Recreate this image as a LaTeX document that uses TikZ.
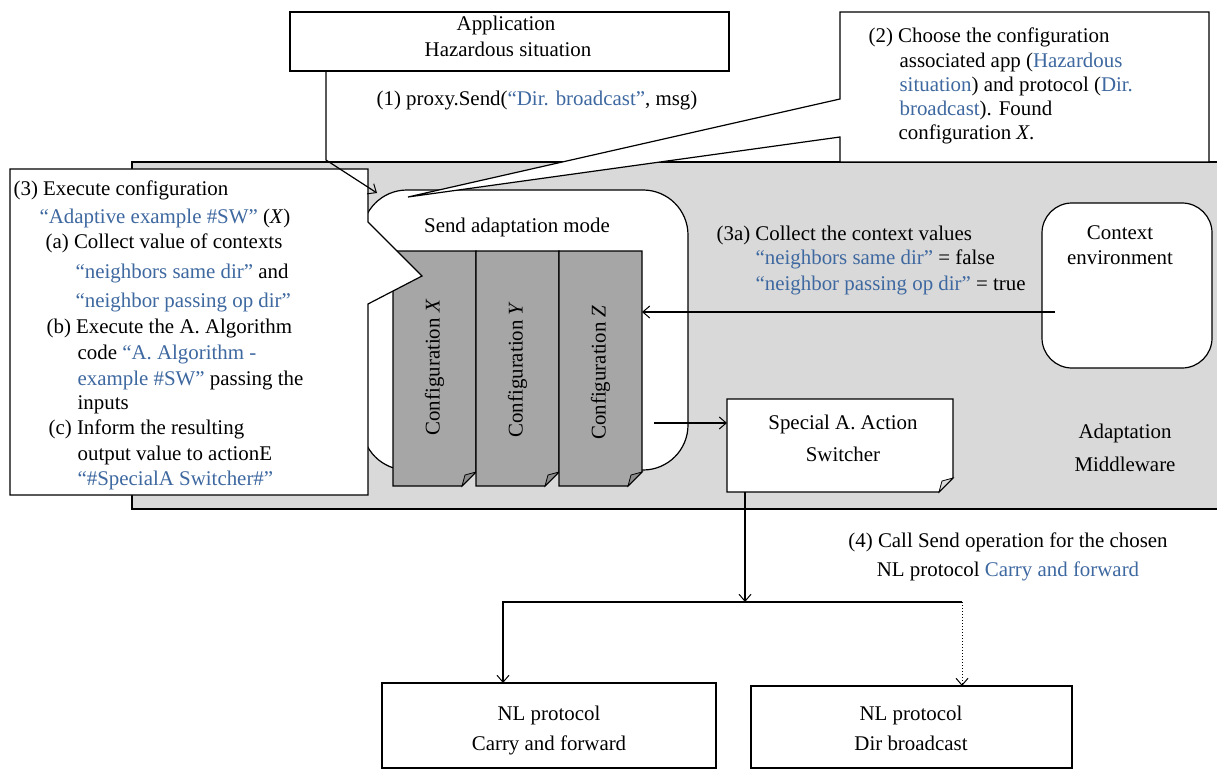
\documentclass[tikz,border=0pt]{standalone}
\usepackage{fontspec}
\setmainfont{Liberation Serif}
\usetikzlibrary{arrows.meta,calc}
\definecolor{lnk}{RGB}{62,104,160}
\definecolor{mwgrey}{RGB}{217,217,217}
\definecolor{cfggrey}{RGB}{166,166,166}
\definecolor{flapdark}{RGB}{140,140,140}
\definecolor{flaplight}{RGB}{220,220,220}
\newcommand{\lk}[1]{\textcolor{lnk}{#1}}
% document shape with a folded bottom-right corner, drawn on a node's frame
\newcommand{\foldeddoc}[3]{%
  \filldraw[fill=#2] (#1.north west) -- (#1.north east) -- ($(#1.south east)+(0,-14)$)
    -- ($(#1.south east)+(-14,0)$) -- (#1.south west) -- cycle;
  \filldraw[fill=#3, line width=0.8pt] ($(#1.south east)+(-14,0)$) -- ($(#1.south east)+(-11,-11)$)
    -- ($(#1.south east)+(0,-14)$) -- cycle;}
\begin{document}
\begin{tikzpicture}[x=1pt, y=-1pt, line width=1.2pt,
  font=\fontsize{20.9}{24}\selectfont,
  arr/.style={-{Straight Barb[length=7pt,width=12pt,line width=1pt]}},
  txt/.style={inner sep=0pt, anchor=base west},
  ctxt/.style={inner sep=0pt, anchor=base},
  frame/.style={inner sep=0pt, outer sep=0pt, anchor=north west},
  plainbox/.style={frame, draw, fill=white},
  docbox/.style={frame}]

\useasboundingbox (0,0) rectangle (1217,770);

% adaptation middleware area
\node[frame, draw, fill=mwgrey, line width=1.4pt, minimum width=1110, minimum height=347] (mw) at (132,162) {};

% application box
\node[plainbox, minimum width=439, minimum height=59] (app) at (290,12) {};
\node[ctxt] (appt1) at (506,31) {Application};
\node[ctxt] (appt2) at (508,57) {Hazardous situation};
\node[ctxt] (step1) at (537,106) {(1) proxy.Send(\lk{“Dir. broadcast”}, msg)};

% send adaptation mode
\node[frame, draw, fill=white, rounded corners=45, minimum width=326, minimum height=280] (send) at (362,190) {};
\node[ctxt] (sendt) at (517,232) {Send adaptation mode};

% configurations
\node[docbox, minimum width=83, minimum height=235] (cfgX) at (393,251) {};
\node[docbox, minimum width=83, minimum height=235] (cfgY) at (476,251) {};
\node[docbox, minimum width=83, minimum height=235] (cfgZ) at (559,251) {};
\foldeddoc{cfgX}{cfggrey}{flapdark}
\foldeddoc{cfgY}{cfggrey}{flapdark}
\foldeddoc{cfgZ}{cfggrey}{flapdark}
\node[rotate=90, inner sep=0pt] (cfgXt) at ($(cfgX.center)+(0,-1)$) {Configuration \textit{X}};
\node[rotate=90, inner sep=0pt] (cfgYt) at ($(cfgY.center)+(0,1)$) {Configuration \textit{Y}};
\node[rotate=90, inner sep=0pt] (cfgZt) at ($(cfgZ.center)+(0,4)$) {Configuration \textit{Z}};

% callout (2)
\draw[fill=white] (840,162) -- (840,137) -- (408,197) -- (840,99) -- (840,12) -- (1209,12) -- (1209,162) -- cycle;
\node[txt] (c2a) at (868,43) {(2) Choose the configuration};
\node[txt] (c2b) at (899,68) {associated app (\lk{Hazardous}};
\node[txt] (c2c) at (899,92) {\lk{situation}) and protocol (\lk{Dir.}};
\node[txt] (c2d) at (899,116) {\lk{broadcast}). Found};
\node[txt] (c2e) at (898,140) {configuration \textit{X}.};

% callout (3)
\draw[fill=white] (10,169) -- (368,169) -- (368,222) -- (422,276) -- (368,304) -- (368,495) -- (10,495) -- cycle;
\node[txt] (c3a) at (13,195) {(3) Execute configuration};
\node[txt] (c3b) at (39,223) {\lk{“Adaptive example \#SW”} (\textit{X})};
\node[txt] (c3c) at (45,248) {(a) Collect value of contexts};
\node[txt] (c3d) at (75,278) {\lk{“neighbors same dir”} and};
\node[txt] (c3e) at (75,307) {\lk{“neighbor passing op dir”}};
\node[txt] (c3f) at (46,333) {(b) Execute the A. Algorithm};
\node[txt] (c3g) at (77,359) {code \lk{“A. Algorithm -}};
\node[txt] (c3h) at (77,385) {\lk{example \#SW”} passing the};
\node[txt] (c3i) at (77,409) {inputs};
\node[txt] (c3j) at (48,434) {(c) Inform the resulting};
\node[txt] (c3k) at (77,460) {output value to actionE};
\node[txt] (c3l) at (77,485) {\lk{“\#SpecialA Switcher\#”}};

% context environment
\node[frame, draw, fill=white, rounded corners=30, minimum width=170, minimum height=165] (ctx) at (1042,203) {};
\node[ctxt] (ctxt1) at (1120,239) {Context};
\node[ctxt] (ctxt2) at (1120,264) {environment};
\node[txt] (s3a) at (716,240) {(3a) Collect the context values};
\node[txt] (s3b) at (755,264) {\lk{“neighbors same dir”} = false};
\node[txt] (s3c) at (755,290) {\lk{“neighbor passing op dir”} = true};

% special action switcher
\node[docbox, minimum width=226, minimum height=93] (sw) at (727,399) {};
\foldeddoc{sw}{white}{flaplight}
\node[ctxt] (swt1) at (843,429) {Special A. Action};
\node[ctxt] (swt2) at (843,461) {Switcher};

\node[ctxt] (mwt1) at (1125,438) {Adaptation};
\node[ctxt] (mwt2) at (1125,471) {Middleware};

% network layer protocols
\node[plainbox, minimum width=334, minimum height=85] (nlcf) at (382,683) {};
\node[ctxt] (nlcft1) at (549,720) {NL protocol};
\node[ctxt] (nlcft2) at (549,750) {Carry and forward};
\node[plainbox, minimum width=321, minimum height=82] (nldb) at (751,686) {};
\node[ctxt] (nldbt1) at (911,720) {NL protocol};
\node[ctxt] (nldbt2) at (911,750) {Dir broadcast};
\node[ctxt] (step4a) at (1008,547) {(4) Call Send operation for the chosen};
\node[ctxt] (step4b) at (1008,576) {NL protocol \lk{Carry and forward}};

% connectors
\draw[arr] ($(app.south west)+(36,0)$) -- ++(0,89) -- ($(send.north west)+(15,3)$);
\coordinate (ctxout) at ($(ctx.north west)+(13,109)$);
\draw[arr] (ctxout) -- (ctxout -| cfgZ.east);
\coordinate (cfgout) at ($(cfgZ.south east)+(12,-63)$);
\draw[arr] (cfgout) -- (cfgout -| sw.west);
\coordinate (swout) at ($(sw.south west)+(18,0)$);
\coordinate (jn) at ($(swout)+(0,110)$);
\draw[arr] (swout) -- (jn);
\draw[arr] (jn) -| ($(nlcf.north west)+(121,0)$);
\coordinate (jr) at ($(nldb.north west)+(211,-84)$);
\draw (jn) -- (jr);
\draw[arr, dotted, line width=1pt] (jr) -- (jr |- nldb.north);
\end{tikzpicture}
\end{document}
